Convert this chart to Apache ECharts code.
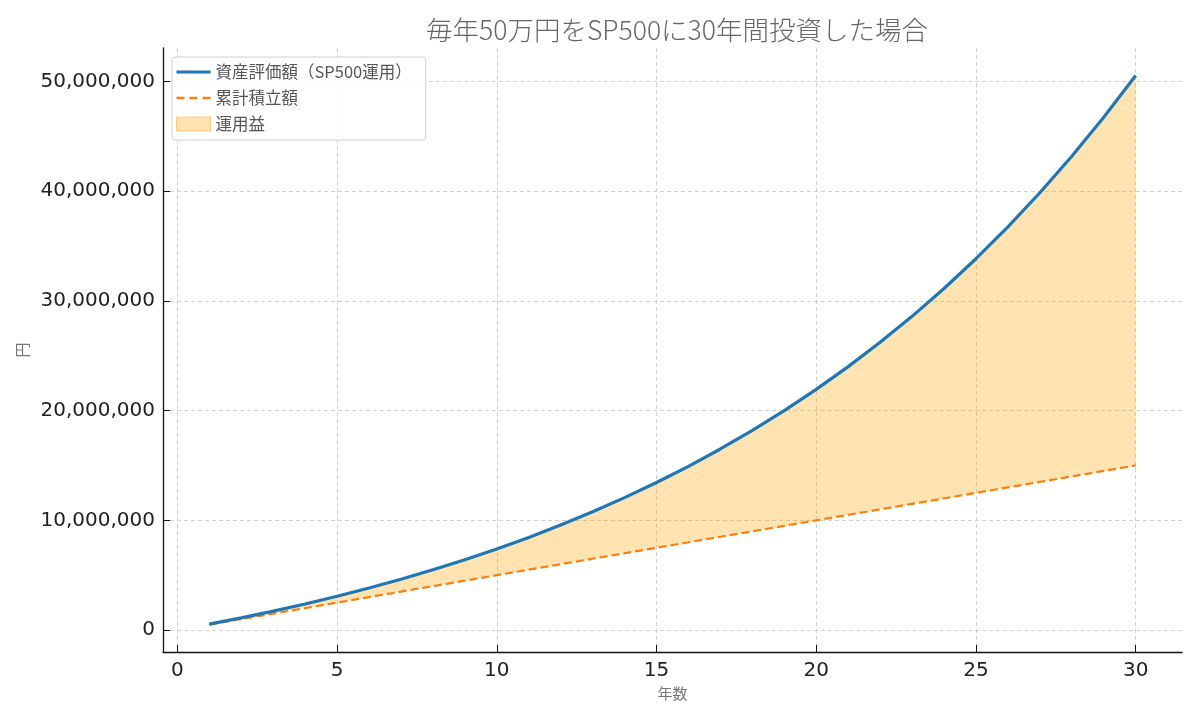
<!DOCTYPE html>
<html>
	<head>
		<meta charset="UTF-8">
		<title>SP500積立</title>
		<script src="https://cdn.jsdelivr.net/npm/echarts@6/dist/echarts.min.js"></script>
		<style>
			body { margin: 0; background: #fff; }
			#chart { width: 1200px; height: 720px; }
		</style>
	</head>
	<body>
		<div id="chart"></div>
		<script type="text/javascript">
			// 年数
			var years = [1, 2, 3, 4, 5, 6, 7, 8, 9, 10, 11, 12, 13, 14, 15,
				16, 17, 18, 19, 20, 21, 22, 23, 24, 25, 26, 27, 28, 29, 30];
			// 資産評価額（SP500運用） 図から読み取り
			var assetValue = [535000, 1107000, 1720000, 2375000, 3077000, 3827000, 4630000, 5489000,
				6408000, 7392000, 8444000, 9570000, 10775000, 12065000, 13444000, 14920000,
				16500000, 18189000, 19998000, 21933000, 24003000, 26218000, 28588000, 31125000,
				33838000, 36742000, 39849000, 43173000, 46730000, 50537000];
			// 累計積立額
			var contributed = [500000, 1000000, 1500000, 2000000, 2500000, 3000000, 3500000, 4000000,
				4500000, 5000000, 5500000, 6000000, 6500000, 7000000, 7500000, 8000000,
				8500000, 9000000, 9500000, 10000000, 10500000, 11000000, 11500000, 12000000,
				12500000, 13000000, 13500000, 14000000, 14500000, 15000000];
			var xTicks = [0, 5, 10, 15, 20, 25, 30];
			var yTicks = [0, 10000000, 20000000, 30000000, 40000000, 50000000];

			var pair = function (arr) {
				return years.map(function (y, i) { return [y, arr[i]]; });
			};

			var font = '"Noto Sans CJK JP", "Noto Sans", sans-serif';
			var gridLine = { show: true, lineStyle: { color: '#cccccc', type: [4, 3], width: 0.9 } };
			var fillColor = 'rgba(255,165,0,0.3)';

			var myChart = echarts.init(document.getElementById('chart'));
			var option = {
				animation: false,
				textStyle: { fontFamily: font },
				title: {
					text: '毎年50万円をSP500に30年間投資した場合',
					left: 672,
					textAlign: 'center',
					top: 12,
					textStyle: { fontSize: 26.5, fontWeight: 300, color: '#666', fontFamily: font }
				},
				grid: { left: 163, right: 18, top: 48, bottom: 68 },
				legend: {
					left: 172,
					top: 57,
					orient: 'vertical',
					itemGap: 8,
					itemWidth: 34,
					itemHeight: 18,
					padding: [6, 14, 7, 4],
					borderColor: '#d0d0d0',
					borderWidth: 1,
					borderRadius: 3,
					backgroundColor: 'rgba(255,255,255,0.85)',
					textStyle: { fontSize: 16.5, lineHeight: 18, color: '#555', fontFamily: font },
					data: [
						{ name: '資産評価額（SP500運用）', icon: 'path://M0,7.5H34V10.5H0Z' },
						{ name: '累計積立額', icon: 'path://M0,7.5H8V10H0ZM13,7.5H21V10H13ZM26,7.5H34V10H26Z' },
						{ name: '運用益', icon: 'path://M0,2H34V16H0Z', itemStyle: { color: fillColor, borderColor: 'rgba(255,165,0,0.45)', borderWidth: 1 } }
					]
				},
				xAxis: {
					type: 'value',
					min: -0.45,
					max: 31.45,
					name: '年数',
					nameLocation: 'middle',
					nameGap: 30,
					nameTextStyle: { fontSize: 15, color: '#777' },
					axisLine: { onZero: false, lineStyle: { color: '#111', width: 1.3 } },
					axisTick: { inside: true, length: 7, customValues: xTicks, lineStyle: { color: '#111' } },
					axisLabel: { customValues: xTicks, fontSize: 20, color: '#222', margin: 9, fontFamily: 'DejaVu Sans' },
					splitLine: gridLine
				},
				yAxis: {
					type: 'value',
					min: -2000000,
					max: 53040000,
					name: '円',
					nameLocation: 'middle',
					nameGap: 127,
					nameRotate: 90,
					nameTextStyle: { fontSize: 15, color: '#777' },
					axisLine: { show: true, onZero: false, lineStyle: { color: '#111', width: 1.3 } },
					axisTick: { show: true, inside: true, length: 7, customValues: yTicks, lineStyle: { color: '#111' } },
					axisLabel: {
						customValues: yTicks,
						fontSize: 20,
						color: '#222',
						margin: 8,
						fontFamily: 'DejaVu Sans',
						formatter: function (v) { return v.toLocaleString('en-US'); }
					},
					splitLine: gridLine
				},
				series: [
					{
						name: '運用益',
						type: 'custom',
						data: [0],
						itemStyle: { color: fillColor },
						renderItem: function (params, api) {
							var pts = [];
							for (var i = 0; i < years.length; i++) {
								pts.push(api.coord([years[i], assetValue[i]]));
							}
							for (var j = years.length - 1; j >= 0; j--) {
								pts.push(api.coord([years[j], contributed[j]]));
							}
							return {
								type: 'polygon',
								shape: { points: pts },
								style: { fill: fillColor, stroke: null }
							};
						},
						silent: true,
						z: 1
					},
					{
						name: '累計積立額',
						type: 'line',
						data: pair(contributed),
						symbol: 'none',
						itemStyle: { color: '#ff7f0e' },
						lineStyle: { color: '#ff7f0e', width: 2.2, type: [8, 4] },
						z: 3
					},
					{
						name: '資産評価額（SP500運用）',
						type: 'line',
						data: pair(assetValue),
						symbol: 'none',
						itemStyle: { color: '#1f77b4' },
						lineStyle: { color: '#1f77b4', width: 3.2 },
						z: 4
					}
				]
			};
			myChart.setOption(option);
		</script>
	</body>
</html>
